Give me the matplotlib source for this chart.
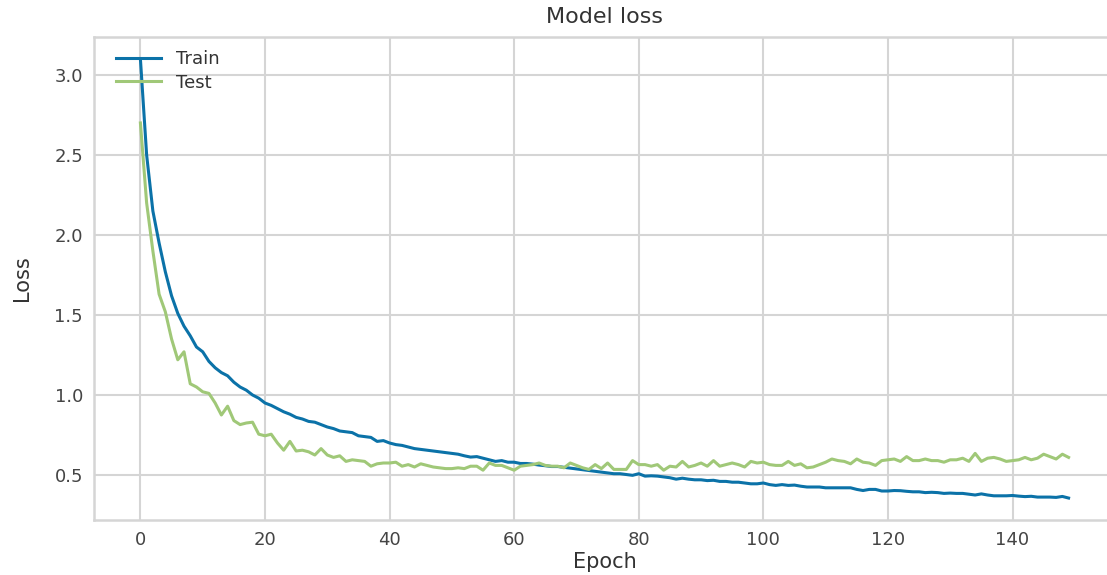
import numpy as np
import matplotlib.pyplot as plt

# training history (loss per epoch)
train_loss = [
    3.10, 2.50, 2.15, 1.95, 1.77, 1.62, 1.51, 1.43, 1.37, 1.30,
    1.27, 1.21, 1.17, 1.14, 1.12, 1.08, 1.05, 1.03, 1.00, 0.98,
    0.95, 0.935, 0.915, 0.895, 0.88, 0.86, 0.85, 0.835, 0.83, 0.815,
    0.80, 0.79, 0.775, 0.77, 0.765, 0.745, 0.74, 0.735, 0.71, 0.715,
    0.70, 0.69, 0.685, 0.675, 0.665, 0.66, 0.655, 0.65, 0.645, 0.64,
    0.635, 0.63, 0.62, 0.612, 0.615, 0.605, 0.595, 0.585, 0.59, 0.58,
    0.58, 0.572, 0.572, 0.568, 0.562, 0.558, 0.553, 0.553, 0.548, 0.543,
    0.538, 0.533, 0.528, 0.523, 0.518, 0.513, 0.508, 0.508, 0.503, 0.498,
    0.508, 0.493, 0.495, 0.493, 0.488, 0.483, 0.474, 0.48, 0.474, 0.47,
    0.47, 0.465, 0.467, 0.46, 0.46, 0.455, 0.455, 0.45, 0.445, 0.445,
    0.45, 0.44, 0.435, 0.44, 0.435, 0.437, 0.43, 0.425, 0.425, 0.425,
    0.42, 0.42, 0.42, 0.42, 0.42, 0.41, 0.403, 0.41, 0.41, 0.40,
    0.40, 0.403, 0.402, 0.398, 0.395, 0.395, 0.39, 0.392, 0.39, 0.385,
    0.387, 0.385, 0.385, 0.38, 0.375, 0.382, 0.375, 0.37, 0.37, 0.37,
    0.372, 0.368, 0.365, 0.367, 0.362, 0.362, 0.362, 0.36, 0.366, 0.356,
]
test_loss = [
    2.70, 2.20, 1.90, 1.63, 1.52, 1.35, 1.22, 1.27, 1.07, 1.05,
    1.02, 1.01, 0.95, 0.875, 0.93, 0.84, 0.815, 0.825, 0.83, 0.755,
    0.745, 0.755, 0.70, 0.655, 0.71, 0.65, 0.655, 0.645, 0.625, 0.665,
    0.625, 0.61, 0.62, 0.585, 0.595, 0.59, 0.585, 0.555, 0.57, 0.575,
    0.575, 0.58, 0.555, 0.565, 0.55, 0.57, 0.56, 0.55, 0.545, 0.54,
    0.54, 0.545, 0.54, 0.555, 0.555, 0.53, 0.575, 0.56, 0.56, 0.545,
    0.53, 0.555, 0.56, 0.565, 0.575, 0.56, 0.555, 0.555, 0.545, 0.575,
    0.56, 0.545, 0.535, 0.565, 0.54, 0.575, 0.535, 0.535, 0.535, 0.59,
    0.565, 0.565, 0.555, 0.565, 0.53, 0.555, 0.55, 0.585, 0.55, 0.56,
    0.575, 0.555, 0.59, 0.555, 0.565, 0.575, 0.565, 0.55, 0.585, 0.575,
    0.58, 0.565, 0.56, 0.56, 0.585, 0.56, 0.57, 0.545, 0.55, 0.565,
    0.58, 0.60, 0.59, 0.585, 0.57, 0.60, 0.58, 0.575, 0.56, 0.59,
    0.595, 0.60, 0.585, 0.615, 0.59, 0.59, 0.60, 0.59, 0.59, 0.58,
    0.595, 0.595, 0.605, 0.585, 0.635, 0.585, 0.605, 0.61, 0.60, 0.585,
    0.59, 0.595, 0.61, 0.595, 0.605, 0.63, 0.615, 0.60, 0.63, 0.61,
]
series_names = ['Train', 'Test']

grid_col = '#d5d5d5'
text_col = '#444444'

fig = plt.figure(figsize=(11.07, 5.75), dpi=100)
ax = fig.add_axes([94 / 1107, 55 / 575, 1021 / 1107, 483 / 575])

epochs = np.arange(len(train_loss))
ax.plot(epochs, train_loss, color='#0b72a8', lw=2.2, label=series_names[0])
ax.plot(epochs, test_loss, color='#a0c878', lw=2.2, label=series_names[1])

ax.set_title('Model loss', fontsize=16, color='#333333', pad=10)
ax.set_xlabel('Epoch', fontsize=15, color='#333333', labelpad=2)
ax.set_ylabel('Loss', fontsize=15, color='#333333', labelpad=16,
              family=['Liberation Sans Narrow', 'DejaVu Sans'])

ax.set_xticks(np.arange(0, 160, 20))
ax.set_yticks(np.arange(0.5, 3.01, 0.5))
ax.tick_params(labelsize=13, colors=text_col, length=0, pad=8)
ax.grid(True, color=grid_col, lw=1.5)
ax.set_axisbelow(True)
for sp in ax.spines.values():
    sp.set_color(grid_col)
    sp.set_linewidth(1.8)

ax.legend(loc='upper left', bbox_to_anchor=(0.011, 0.995), frameon=False,
          fontsize=13, handlelength=2.5, borderaxespad=0.2,
          labelspacing=0.3, labelcolor='#333333')

fig.savefig('out.png', dpi=100)
